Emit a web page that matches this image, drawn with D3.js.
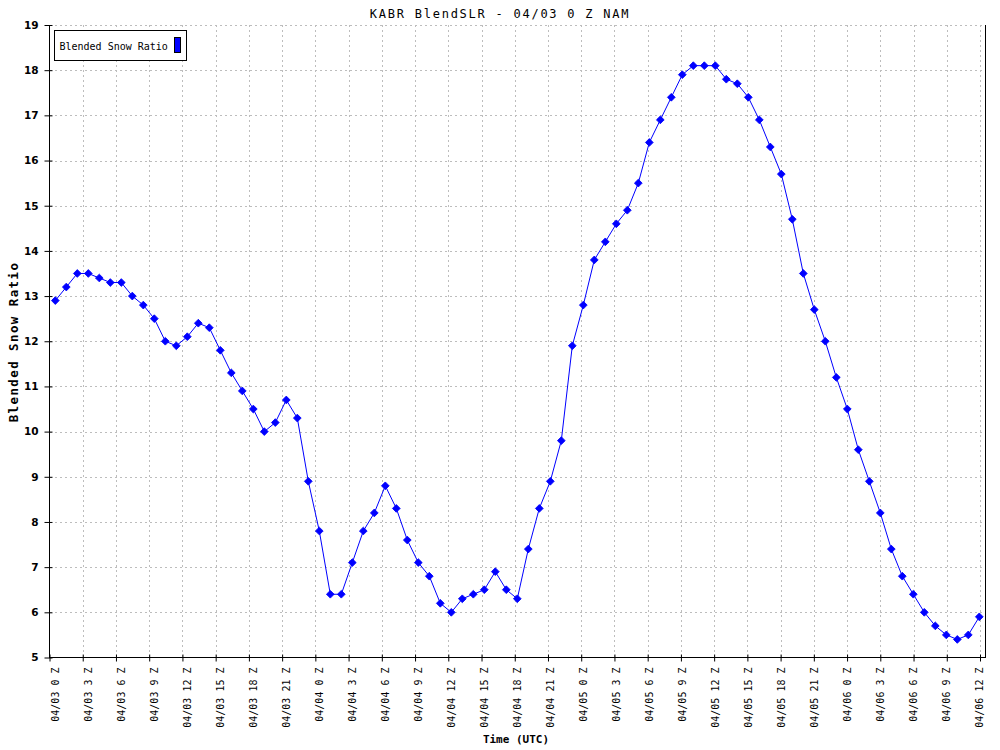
<!DOCTYPE html>
<html>
<head>
<meta charset="utf-8">
<script src="https://cdn.jsdelivr.net/npm/d3@7/dist/d3.min.js"></script>
<style>
  html, body { margin: 0; padding: 0; background: #fff; }
  svg { display: block; }
</style>
</head>
<body>
<svg id="chart" width="1000" height="750"></svg>
<script>
// ---- Data ----
const hours = d3.range(0, 85); // hourly forecast steps from 04/03 0 Z
const snowRatio = [
  12.9, 13.2, 13.5, 13.5, 13.4, 13.3, 13.3, 13.0, 12.8, 12.5,
  12.0, 11.9, 12.1, 12.4, 12.3, 11.8, 11.3, 10.9, 10.5, 10.0,
  10.2, 10.7, 10.3, 8.9, 7.8, 6.4, 6.4, 7.1, 7.8, 8.2,
  8.8, 8.3, 7.6, 7.1, 6.8, 6.2, 6.0, 6.3, 6.4, 6.5,
  6.9, 6.5, 6.3, 7.4, 8.3, 8.9, 9.8, 11.9, 12.8, 13.8,
  14.2, 14.6, 14.9, 15.5, 16.4, 16.9, 17.4, 17.9, 18.1, 18.1,
  18.1, 17.8, 17.7, 17.4, 16.9, 16.3, 15.7, 14.7, 13.5, 12.7,
  12.0, 11.2, 10.5, 9.6, 8.9, 8.2, 7.4, 6.8, 6.4, 6.0,
  5.7, 5.5, 5.4, 5.5, 5.9
];
const tickHours = d3.range(0, 85, 3);
const tickLabels = [
  "04/03 0 Z", "04/03 3 Z", "04/03 6 Z", "04/03 9 Z", "04/03 12 Z", "04/03 15 Z", "04/03 18 Z", "04/03 21 Z",
  "04/04 0 Z", "04/04 3 Z", "04/04 6 Z", "04/04 9 Z", "04/04 12 Z", "04/04 15 Z", "04/04 18 Z", "04/04 21 Z",
  "04/05 0 Z", "04/05 3 Z", "04/05 6 Z", "04/05 9 Z", "04/05 12 Z", "04/05 15 Z", "04/05 18 Z", "04/05 21 Z",
  "04/06 0 Z", "04/06 3 Z", "04/06 6 Z", "04/06 9 Z", "04/06 12 Z"
];
const yTicks = d3.range(5, 20, 1);
const titleText = "KABR BlendSLR - 04/03 0 Z NAM";
const yTitle = "Blended Snow Ratio";
const xTitle = "Time (UTC)";
const legendText = "Blended Snow Ratio";

// ---- Layout ----
const L = 49.5, R = 985.5, T = 25, B = 657.5;
const svg = d3.select("#chart");
const mono = "'DejaVu Sans Mono', 'Liberation Mono', monospace";

const y = d3.scaleLinear().domain([5, 19]).range([B, T]);
const xTick = d3.scaleLinear().domain([0, 84]).range([L, 980]);
const xPt = d3.scaleLinear().domain([0, 84]).range([55.3, 979.3]);

svg.append("rect").attr("width", 1000).attr("height", 750).attr("fill", "#fff");

// grid
const grid = svg.append("g").attr("stroke", "#bdbdbd").attr("stroke-dasharray", "2,3")
  .attr("shape-rendering", "crispEdges");
grid.selectAll("line.h").data(yTicks.filter(v => v > 5)).join("line")
  .attr("x1", L).attr("x2", R)
  .attr("y1", d => Math.round(y(d)) + 0.5).attr("y2", d => Math.round(y(d)) + 0.5);
grid.selectAll("line.v").data(tickHours.filter(h => h > 0)).join("line")
  .attr("x1", d => Math.round(xTick(d)) + 0.5).attr("x2", d => Math.round(xTick(d)) + 0.5)
  .attr("y1", T).attr("y2", B);

// axes via d3 generators
const yAxis = d3.axisLeft(y).tickValues(yTicks).tickSize(5).tickFormat(d3.format("d"));
const gy = svg.append("g").attr("transform", `translate(${L},0)`).call(yAxis);
gy.select(".domain").remove();
gy.selectAll(".tick line").attr("x1", 3).attr("x2", -5).attr("stroke", "#000");
gy.selectAll(".tick text")
  .attr("x", -11)
  .attr("font-family", "'DejaVu Sans', sans-serif")
  .attr("font-weight", "bold")
  .attr("font-size", 10.5)
  .attr("fill", "#000");

const xAxis = d3.axisBottom(xTick).tickValues(tickHours).tickSize(4).tickFormat("");
const gx = svg.append("g").attr("transform", `translate(0,${B})`).call(xAxis);
gx.select(".domain").remove();
gx.selectAll(".tick line").attr("y1", -3).attr("y2", 4).attr("stroke", "#000");

// tick labels (positioned at the data points)
svg.append("g").selectAll("text").data(tickHours).join("text")
  .attr("transform", (d) => `translate(${xPt(d) + 0.5},${B + 10}) rotate(-90)`)
  .attr("text-anchor", "end")
  .attr("dy", "0.35em")
  .attr("font-family", mono)
  .attr("font-size", 10)
  .attr("fill", "#000")
  .text((d, i) => tickLabels[i]);

// frame lines
const frame = svg.append("g").attr("stroke", "#000").attr("shape-rendering", "crispEdges");
frame.append("line").attr("x1", L).attr("x2", L).attr("y1", T).attr("y2", B + 0.5);
frame.append("line").attr("x1", L).attr("x2", R).attr("y1", B).attr("y2", B);
frame.append("line").attr("x1", R).attr("x2", R).attr("y1", T).attr("y2", B + 0.5);

// line
const line = d3.line().x((d, i) => xPt(hours[i])).y(d => y(d));
svg.append("path").datum(snowRatio)
  .attr("d", line).attr("fill", "none").attr("stroke", "#0000ff").attr("stroke-width", 1);

// markers
const diamond = d3.symbol().type(d3.symbolSquare).size(30);
svg.append("g").selectAll("path").data(snowRatio).join("path")
  .attr("transform", (d, i) => `translate(${xPt(hours[i])},${y(d)}) rotate(45)`)
  .attr("d", diamond)
  .attr("fill", "#0000ff").attr("stroke", "#0000ff").attr("stroke-width", 0.8);

// title
svg.append("text").attr("x", 500).attr("y", 17.5).attr("text-anchor", "middle")
  .attr("font-family", mono).attr("font-size", 12).attr("letter-spacing", 1.75)
  .attr("fill", "#000").text(titleText);

// y title
svg.append("text").attr("transform", "translate(18,342) rotate(-90)").attr("text-anchor", "middle")
  .attr("font-family", mono).attr("font-weight", "bold").attr("font-size", 12.5).attr("letter-spacing", 1.4)
  .attr("fill", "#000").text(yTitle);

// x title
svg.append("text").attr("x", 516).attr("y", 743).attr("text-anchor", "middle")
  .attr("font-family", mono).attr("font-weight", "bold").attr("font-size", 11)
  .attr("fill", "#000").text(xTitle);

// legend
const lg = svg.append("g").attr("shape-rendering", "crispEdges");
lg.append("rect").attr("x", 54.5).attr("y", 30.5).attr("width", 132).attr("height", 30)
  .attr("fill", "#fff").attr("stroke", "#000");
lg.append("text").attr("x", 59.5).attr("y", 46).attr("dy", "0.35em")
  .attr("font-family", mono).attr("font-size", 10).attr("fill", "#000").text(legendText);
lg.append("rect").attr("x", 174.5).attr("y", 37.5).attr("width", 6).attr("height", 15)
  .attr("fill", "#0000ff").attr("stroke", "#000");
</script>
</body>
</html>
